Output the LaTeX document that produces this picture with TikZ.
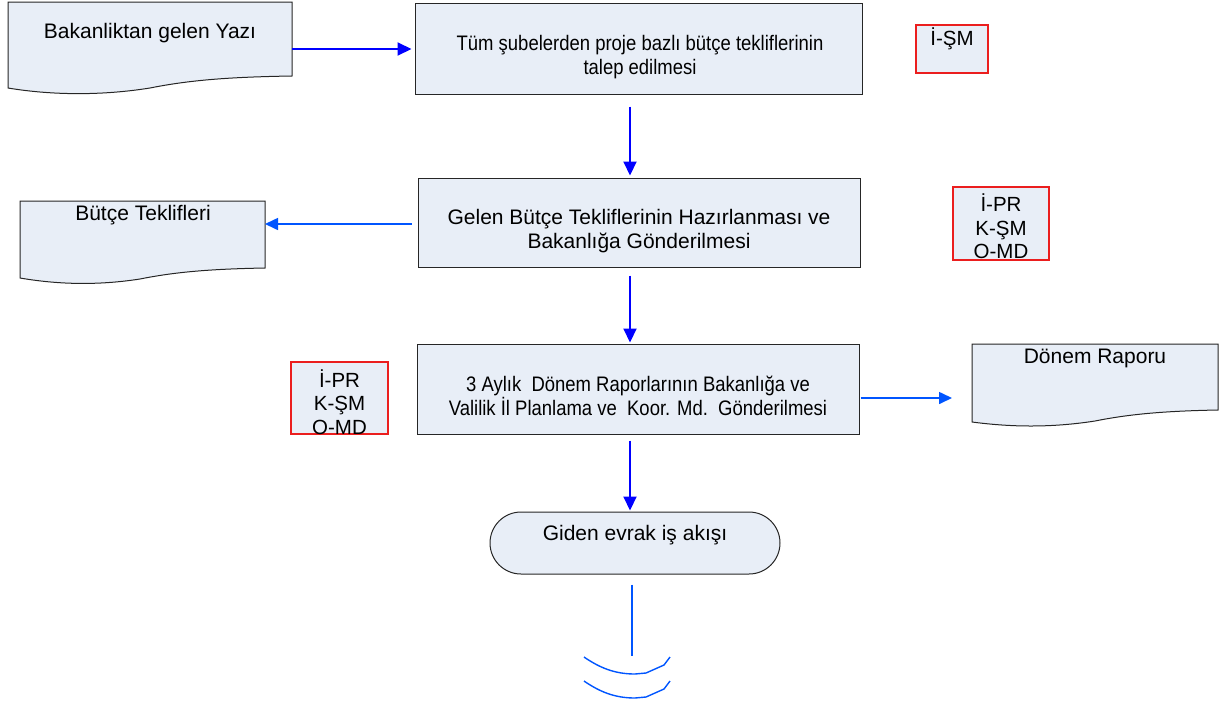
\documentclass[tikz,border=0pt]{standalone}
\usepackage{fontspec}
\setmainfont{Liberation Sans}
\newfontfamily\condensedfont[FakeStretch=0.88]{Liberation Sans}
\usetikzlibrary{arrows.meta}
\definecolor{boxfill}{RGB}{232,238,247}
\definecolor{darrow}{RGB}{0,0,255}
\definecolor{larrow}{RGB}{0,85,255}
\definecolor{redline}{RGB}{235,30,30}
\begin{document}
\begin{tikzpicture}[x=1pt,y=-1pt,
  every node/.style={font=\fontsize{21}{24}\selectfont, inner sep=0pt},
  smalltext/.style={font=\condensedfont\fontsize{21}{24.5}\selectfont},
  procbox/.style={draw=black!85, line width=1pt, fill=boxfill, minimum width=#1, minimum height=90pt, rectangle},
  docshape/.style={draw=black!85, line width=1pt, fill=boxfill},
  redbox/.style={draw=redline, line width=1.5pt, fill=boxfill, rectangle},
  lbl/.style={align=center},
  redlbl/.style={align=center, font=\fontsize{20.5}{23.5}\selectfont},
  mainarrow/.style={draw=darrow, line width=2pt, -{Triangle[length=14pt,width=13pt]}},
  sidearrow/.style={draw=larrow, line width=1.6pt, -{Triangle[length=13pt,width=12pt]}},
  wave/.style={draw=larrow, line width=1.4pt}
]
\useasboundingbox (0,0) rectangle (1220,702);

% documents
\draw[docshape] (8,2) -- (292,2) -- (292,76) .. controls (230,77) and (190,80) .. (150,88) .. controls (100,96) and (50,95) .. (8,88) -- cycle;
\coordinate (d1e) at (292,49);
\node[lbl] (t1) at (150,33) {Bakanliktan gelen Yazı};

\draw[docshape] (20,201) -- (265,201) -- (265,268) .. controls (210,269) and (175,272) .. (140,279) .. controls (95,286) and (55,284) .. (20,278) -- cycle;
\coordinate (d2e) at (265,224);
\node[lbl] (t2) at (143,215) {Bütçe Teklifleri};

\draw[docshape] (972,344) -- (1218,344) -- (1218,410) .. controls (1165,411) and (1130,414) .. (1095,421) .. controls (1050,428) and (1010,427) .. (972,422) -- cycle;
\coordinate (d3w) at (972,398);
\node[lbl] (t3) at (1095,358) {Dönem Raporu};

% process boxes
\node[procbox=447pt, minimum height=91pt] (b1) at (638.5,48.5) {};
\node[lbl, smalltext] (b1t) at (640,57) {Tüm şubelerden proje bazlı bütçe tekliflerinin\\talep edilmesi};

\node[procbox=442pt, minimum height=89pt] (b2) at (639,222.5) {};
\node[lbl] (b2t) at (639,231) {Gelen Bütçe Tekliflerinin Hazırlanması ve\\Bakanlığa Gönderilmesi};

\node[procbox=442pt, minimum height=90pt] (b3) at (638,389) {};
\node[lbl, smalltext] (b3t) at (638,396) {3 Aylık\ \ Dönem Raporlarının Bakanlığa ve\\Valilik İl Planlama ve\ \ Koor. Md.\ \ Gönderilmesi};

% terminator
\node[draw=black!85, line width=1pt, fill=boxfill, minimum width=290pt, minimum height=62pt, rounded corners=31pt] (term) at (635,543) {};
\node[lbl] (termt) at (635,535) {Giden evrak iş akışı};

% red boxes
\node[redbox, minimum width=72pt, minimum height=48pt] (r1) at (952,49) {};
\node[redlbl] (r1t) at (952,39) {İ-ŞM};
\node[redbox, minimum width=96pt, minimum height=73pt] (r2) at (1001,223.5) {};
\node[redlbl] (r2t) at (1001,226.5) {İ-PR\\K-ŞM\\O-MD};
\node[redbox, minimum width=97pt, minimum height=72pt] (r3) at (339.5,398) {};
\node[redlbl] (r3t) at (339.5,402) {İ-PR\\K-ŞM\\O-MD};

% connectors
\draw[mainarrow, shorten >=3pt] (d1e) -- (d1e -| b1.west);
\draw[mainarrow, shorten <=12pt, shorten >=2pt] (b1.south -| 630,0) -- (b2.north -| 630,0);
\draw[mainarrow, shorten <=8pt, shorten >=1pt] (b2.south -| 630,0) -- (b3.north -| 630,0);
\draw[mainarrow, shorten <=6pt, shorten >=1pt] (b3.south -| 630,0) -- (term.north -| 630,0);
\draw[sidearrow, shorten <=6pt] (d2e -| b2.west) -- (d2e);
\draw[sidearrow, shorten <=1pt, shorten >=20pt] (d3w -| b3.east) -- (d3w);

\coordinate (wtop) at (632,656);
\draw[wave, shorten <=10pt] (term.south -| wtop) -- (wtop);
\draw[wave] (584,657) .. controls (600,668) and (615,674) .. (635,674) -- (646,673) -- (664,665) -- (670,657);
\draw[wave] (584,681) .. controls (600,692) and (615,698) .. (635,698) -- (646,697) -- (664,689) -- (670,681);
\end{tikzpicture}
\end{document}
